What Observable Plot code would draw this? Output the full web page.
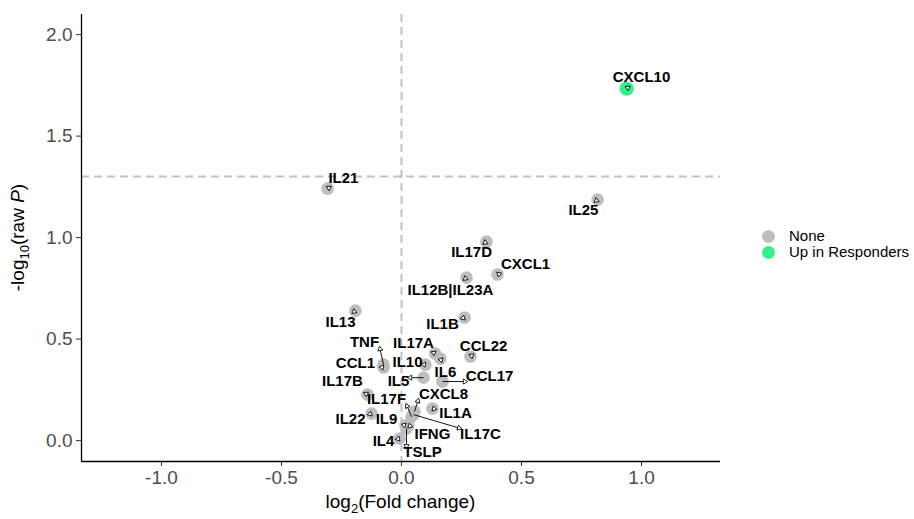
<!DOCTYPE html>
<html><head><meta charset="utf-8">
<script src="https://cdn.jsdelivr.net/npm/d3@7"></script>
<script src="https://cdn.jsdelivr.net/npm/@observablehq/plot@0.6"></script>
<style>
body{margin:0;background:#fff;font-family:"Liberation Sans",Arial,sans-serif;}
#wrap{position:relative;width:914px;height:519px;}
#legend{position:absolute;left:760px;top:228px;font-size:15px;color:#000;line-height:16px;}
.item{display:flex;align-items:center;height:16px;}
.sw{width:13px;height:13px;border-radius:50%;margin-left:2px;margin-right:14px;}
</style></head><body>
<div id="wrap"><div id="chart"></div><div id="legend"></div></div>
<script>
// ---- data ----
const genes = ["CXCL10","IL21","IL25","IL17D","CXCL1","IL12B|IL23A","IL1B","IL13","CCL22","IL17A","IL6","IL10","IL5","CCL17","TNF","CCL1","IL17B","IL22","IL4","IL1A","CXCL8","IL17F","IL17C","IL9","IFNG","TSLP"];
const log2FC = [0.938,-0.308,0.817,0.354,0.400,0.271,0.263,-0.192,0.2875,0.140,0.1625,0.100,0.092,0.171,-0.075,-0.075,-0.142,-0.125,-0.008,0.129,0.054,0.042,0.050,0.017,0.029,0.021];
const negLog10P = [1.734,1.241,1.187,0.980,0.818,0.803,0.606,0.640,0.414,0.429,0.404,0.374,0.310,0.291,0.374,0.360,0.227,0.133,0.010,0.158,0.143,0.118,0.128,0.074,0.074,0.059];
const groups = ["Up in Responders","None","None","None","None","None","None","None","None","None","None","None","None","None","None","None","None","None","None","None","None","None","None","None","None","None"];
// repelled label anchors (data units), as laid out in the reference
const labelX = [1.0,-0.242,0.758,0.292,0.517,0.204,0.171,-0.254,0.342,0.05,0.183,0.025,-0.0125,0.367,-0.154,-0.192,-0.246,-0.2125,-0.075,0.225,0.175,-0.0625,0.329,-0.0625,0.129,0.0875];
const labelY = [1.788,1.291,1.133,0.926,0.867,0.739,0.571,0.581,0.463,0.478,0.335,0.384,0.291,0.315,0.483,0.379,0.291,0.103,-0.005,0.133,0.227,0.202,0.030,0.103,0.034,-0.059];
const groupNames = ["None","Up in Responders"];
const groupColors = ["#bebebe","#34f08a"];
const xTicks = [-1,-0.5,0,0.5,1];
const yTicks = [0,0.5,1,1.5,2];
const pThreshold = -Math.log10(0.05);

// ---- layout ----
const W = 740, H = 519, mL = 81, mR = 20, mT = 14, mB = 58;
const xDomain = [-1.333, 1.329], yDomain = [-0.103, 2.099];
const FONT = "'Liberation Sans', Arial, Helvetica, sans-serif";
const xs = Plot.scale({x: {domain: xDomain, range: [mL, W - mR]}});
const ys = Plot.scale({y: {domain: yDomain, range: [H - mB, mT]}});

const ctx = document.createElement("canvas").getContext("2d");
ctx.font = "bold 15px " + FONT;

const data = genes.map((g, i) => ({gene: g, x: log2FC[i], y: negLog10P[i], group: groups[i], lx: labelX[i], ly: labelY[i]}));
const clamp = (v, a, b) => Math.max(a, Math.min(b, v));
const tips = data.map(d => {
  const px = xs.apply(d.x), py = ys.apply(d.y);
  const lx = xs.apply(d.lx), ly = ys.apply(d.ly);
  const w = ctx.measureText(d.gene).width + 2, h = 13;
  let tx = clamp(px, lx - w / 2, lx + w / 2), ty = clamp(py, ly - h / 2, ly + h / 2);
  let dx = tx - px, dy = ty - py, dist = Math.hypot(dx, dy);
  if (dist < 9) {
    let ux = lx - px, uy = ly - py, n = Math.hypot(ux, uy) || 1;
    dx = ux / n; dy = uy / n;
    tx = px + dx * 1.5; ty = py + dy * 1.5;
  }
  const rot = Math.atan2(dx, -dy) * 180 / Math.PI;
  return {x1: d.x, y1: d.y, x2: xs.invert(tx), y2: ys.invert(ty), rot, long: dist >= 9};
});

const plot = Plot.plot({
  width: W, height: H,
  marginLeft: mL, marginRight: mR, marginTop: mT, marginBottom: mB,
  x: {domain: xDomain},
  y: {domain: yDomain},
  style: {fontFamily: FONT, background: "#fff"},
  marks: [
    Plot.ruleY([pThreshold], {stroke: "#c2c2c2", strokeWidth: 2, strokeDasharray: "8,5"}),
    Plot.ruleX([0], {stroke: "#c2c2c2", strokeWidth: 2, strokeDasharray: "8,5"}),
    Plot.dot(data.filter(d => d.group === groupNames[0]), {x: "x", y: "y", r: 6.3, fill: groupColors[0], stroke: "none"}),
    Plot.dot(data.filter(d => d.group === groupNames[1]), {x: "x", y: "y", r: 7.2, fill: groupColors[1], stroke: "none"}),
    Plot.link(tips.filter(t => t.long), {x1: "x1", y1: "y1", x2: "x2", y2: "y2", stroke: "#000", strokeWidth: 0.9}),
    Plot.dot(tips, {x: "x2", y: "y2", symbol: "triangle", r: 1.9, rotate: "rot", fill: "#fff", stroke: "#000", strokeWidth: 0.8}),
    Plot.text(data, {x: "lx", y: "ly", text: "gene", fontWeight: "bold", fontSize: 15, fill: "#000", textAnchor: "middle", lineAnchor: "middle"}),
    Plot.axisX({ticks: xTicks, tickFormat: d => d.toFixed(1), label: null, fontSize: 19, tickSize: 5, tickPadding: 4}),
    Plot.axisY({ticks: yTicks, tickFormat: d => d.toFixed(1), label: null, fontSize: 19, tickSize: 5, tickPadding: 4}),
    Plot.ruleX([xDomain[0]], {stroke: "#000", strokeWidth: 1.3}),
    Plot.ruleY([yDomain[0]], {stroke: "#000", strokeWidth: 1.3})
  ]
});
document.getElementById("chart").appendChild(plot);

const svg = d3.select(plot);
svg.selectAll('g[aria-label="x-axis tick label"], g[aria-label="y-axis tick label"]').attr("fill", "#4d4d4d");
svg.selectAll('g[aria-label="x-axis tick"], g[aria-label="y-axis tick"]').attr("stroke", "#333");

// axis titles with subscripts
const xt = svg.append("text").attr("x", (mL + W - mR) / 2).attr("y", 508).attr("text-anchor", "middle")
  .attr("font-size", 19).attr("fill", "#000").attr("font-family", FONT);
xt.append("tspan").text("log");
xt.append("tspan").attr("font-size", 13).attr("dy", 5).text("2");
xt.append("tspan").attr("dy", -5).text("(Fold change)");

const yt = svg.append("text").attr("transform", `translate(24,${(mT + H - mB) / 2}) rotate(-90)`).attr("text-anchor", "middle")
  .attr("font-size", 19).attr("fill", "#000").attr("font-family", FONT);
yt.append("tspan").text("-log");
yt.append("tspan").attr("font-size", 13).attr("dy", 5).text("10");
yt.append("tspan").attr("dy", -5).text("(raw ");
yt.append("tspan").attr("font-style", "italic").text("P");
yt.append("tspan").text(")");

// legend
const lg = d3.select("#legend");
groupNames.forEach((g, i) => {
  const it = lg.append("div").attr("class", "item");
  it.append("div").attr("class", "sw").style("background", groupColors[i]);
  it.append("span").text(g);
});
</script>
</body></html>
